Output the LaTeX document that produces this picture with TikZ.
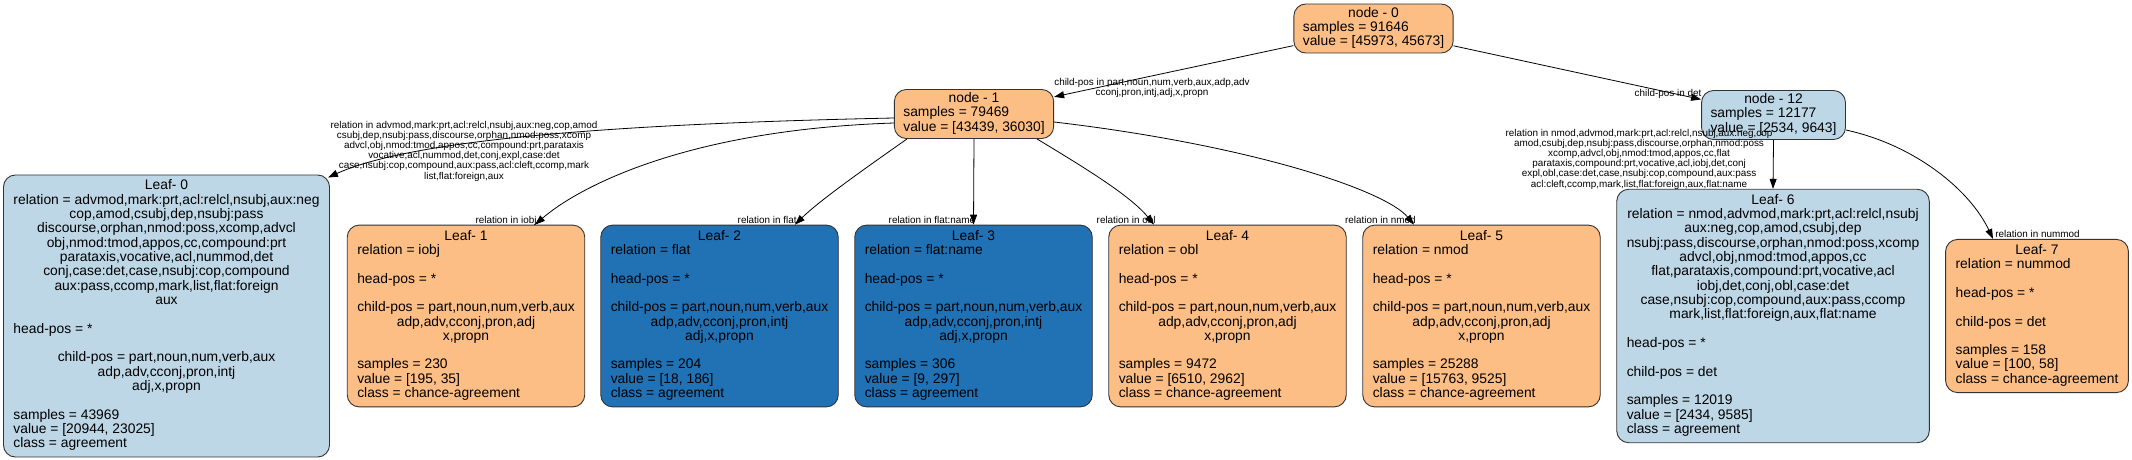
\documentclass[tikz,border=0pt]{standalone}
\usepackage{fontspec}
\setmainfont{Liberation Sans}
\usepackage{xcolor}
\usetikzlibrary{arrows.meta}

\definecolor{lightblue}{HTML}{BDD7E7}
\definecolor{darkblue}{HTML}{2171B5}
\definecolor{lightorange}{HTML}{FDBE85}

\newcommand\nodefont{\fontsize{13.85}{14.3}\selectfont}
\newcommand\edgefont{\fontsize{9.9}{10.2}\selectfont}
\newcommand\cen[1]{\multicolumn{1}{@{}c@{}}{#1}}
\newcommand\labellines[1]{\begin{tabular}{@{}l@{}}#1\end{tabular}}

\begin{document}
\begin{tikzpicture}[x=1pt,y=-1pt,
        box/.style={draw=black!80,line width=0.9pt,rounded corners=12pt,font=\nodefont,inner xsep=9pt,inner ysep=3pt},
        leaf/.style={box,inner xsep=10pt,inner ysep=5pt},
        edge/.style={-{Triangle[length=10pt,width=7pt]},line width=0.8pt},
        elabel/.style={font=\edgefont,inner sep=0pt,align=center},
        headlabel/.style={elabel,pos=1,anchor=base east,xshift=2pt,yshift=1pt}]
        \useasboundingbox (0,0) rectangle (2132,460);

        \node[box,fill=lightorange] (n0) at (1373.5,28.5) {\labellines{\cen{node - 0}\\ samples = 91646\\ value = [45973, 45673]}}; %node 0
        \node[box,fill=lightorange] (n1) at (974,114) {\labellines{\cen{node - 1}\\ samples = 79469\\ value = [43439, 36030]}}; %node 1
        \node[box,fill=lightblue] (n12) at (1773.5,115) {\labellines{\cen{node - 12}\\ samples = 12177\\ value = [2534, 9643]}}; %node 12

        \node[leaf,fill=lightblue] (leaf0) at (166.5,316) {\labellines{\cen{Leaf- 0}\\
                \cen{relation = advmod,mark:prt,acl:relcl,nsubj,aux:neg}\\
                \cen{cop,amod,csubj,dep,nsubj:pass}\\
                \cen{discourse,orphan,nmod:poss,xcomp,advcl}\\
                \cen{obj,nmod:tmod,appos,cc,compound:prt}\\
                \cen{parataxis,vocative,acl,nummod,det}\\
                \cen{conj,case:det,case,nsubj:cop,compound}\\
                \cen{aux:pass,ccomp,mark,list,flat:foreign}\\
                \cen{aux}\\
                \\
                head-pos = *\\
                \\
                \cen{child-pos = part,noun,num,verb,aux}\\
                \cen{adp,adv,cconj,pron,intj}\\
                \cen{adj,x,propn}\\
                \\
                samples = 43969\\
                value = [20944, 23025]\\
                class = agreement}}; %leaf 0
        \node[leaf,fill=lightorange] (leaf1) at (466,316) {\labellines{\cen{Leaf- 1}\\
                relation = iobj\\ \\ head-pos = *\\ \\
                child-pos = part,noun,num,verb,aux\\ \cen{adp,adv,cconj,pron,adj}\\ \cen{x,propn}\\ \\
                samples = 230\\ value = [195, 35]\\ class = chance-agreement}}; %leaf 1
        \node[leaf,fill=darkblue] (leaf2) at (719.5,316) {\labellines{\cen{Leaf- 2}\\
                relation = flat\\ \\ head-pos = *\\ \\
                child-pos = part,noun,num,verb,aux\\ \cen{adp,adv,cconj,pron,intj}\\ \cen{adj,x,propn}\\ \\
                samples = 204\\ value = [18, 186]\\ class = agreement}}; %leaf 2
        \node[leaf,fill=darkblue] (leaf3) at (973.5,316) {\labellines{\cen{Leaf- 3}\\
                relation = flat:name\\ \\ head-pos = *\\ \\
                child-pos = part,noun,num,verb,aux\\ \cen{adp,adv,cconj,pron,intj}\\ \cen{adj,x,propn}\\ \\
                samples = 306\\ value = [9, 297]\\ class = agreement}}; %leaf 3
        \node[leaf,fill=lightorange] (leaf4) at (1227.5,316) {\labellines{\cen{Leaf- 4}\\
                relation = obl\\ \\ head-pos = *\\ \\
                child-pos = part,noun,num,verb,aux\\ \cen{adp,adv,cconj,pron,adj}\\ \cen{x,propn}\\ \\
                samples = 9472\\ value = [6510, 2962]\\ class = chance-agreement}}; %leaf 4
        \node[leaf,fill=lightorange] (leaf5) at (1481.5,316) {\labellines{\cen{Leaf- 5}\\
                relation = nmod\\ \\ head-pos = *\\ \\
                child-pos = part,noun,num,verb,aux\\ \cen{adp,adv,cconj,pron,adj}\\ \cen{x,propn}\\ \\
                samples = 25288\\ value = [15763, 9525]\\ class = chance-agreement}}; %leaf 5
        \node[leaf,fill=lightblue] (leaf6) at (1773,316) {\labellines{\cen{Leaf- 6}\\
                \cen{relation = nmod,advmod,mark:prt,acl:relcl,nsubj}\\
                \cen{aux:neg,cop,amod,csubj,dep}\\
                \cen{nsubj:pass,discourse,orphan,nmod:poss,xcomp}\\
                \cen{advcl,obj,nmod:tmod,appos,cc}\\
                \cen{flat,parataxis,compound:prt,vocative,acl}\\
                \cen{iobj,det,conj,obl,case:det}\\
                \cen{case,nsubj:cop,compound,aux:pass,ccomp}\\
                \cen{mark,list,flat:foreign,aux,flat:name}\\
                \\
                head-pos = *\\ \\ child-pos = det\\ \\
                samples = 12019\\ value = [2434, 9585]\\ class = agreement}}; %leaf 6
        \node[leaf,fill=lightorange] (leaf7) at (2037,316) {\labellines{\cen{Leaf- 7}\\
                relation = nummod\\ \\ head-pos = *\\ \\ child-pos = det\\ \\
                samples = 158\\ value = [100, 58]\\ class = chance-agreement}}; %leaf 7

        % edges
        \draw[edge] (n0) -- (n1);
        \draw[edge] (n0) -- (n12);
        \draw[edge] ([yshift=-4pt]n1.west) .. controls (560,125) and (400,145) .. ([shift={(-2pt,-3pt)}]leaf0.north east);
        \draw[edge] ([yshift=-9pt]n1.west) .. controls (680,130) and (575,190) .. ([xshift=69pt]leaf1.north) node[headlabel] {relation in iobj};
        \draw[edge] ([xshift=-67pt]n1.south) .. controls (870,165) and (820,200) .. ([xshift=75.5pt]leaf2.north) node[headlabel] {relation in flat};
        \draw[edge] (n1.south) -- (leaf3.north) node[headlabel] {relation in flat:name};
        \draw[edge] ([xshift=63pt]n1.south) .. controls (1080,165) and (1130,195) .. ([xshift=-73.5pt]leaf4.north) node[headlabel] {relation in obl};
        \draw[edge] ([yshift=-8pt]n1.east) .. controls (1250,145) and (1385,190) .. ([xshift=-67.5pt]leaf5.north) node[headlabel] {relation in nmod};
        \draw[edge] (n12.south) -- (leaf6.north);
        \draw[edge] ([yshift=-15pt]n12.east) .. controls (1915,145) and (1970,190) .. ([xshift=-44pt]leaf7.north) node[headlabel,anchor=base west,xshift=0pt] {relation in nummod};

        % edge labels
        \node[elabel] (lab01) at (1152,88) {child-pos in part,noun,num,verb,aux,adp,adv\\cconj,pron,intj,adj,x,propn};
        \node[elabel] (lab012) at (1668,94) {child-pos in det};
        \node[elabel] (lab10) at (464,151) {relation in advmod,mark:prt,acl:relcl,nsubj,aux:neg,cop,amod\\
                csubj,dep,nsubj:pass,discourse,orphan,nmod:poss,xcomp\\
                advcl,obj,nmod:tmod,appos,cc,compound:prt,parataxis\\
                vocative,acl,nummod,det,conj,expl,case:det\\
                case,nsubj:cop,compound,aux:pass,acl:cleft,ccomp,mark\\
                list,flat:foreign,aux};
        \node[elabel] (lab126) at (1639,159) {relation in nmod,advmod,mark:prt,acl:relcl,nsubj,aux:neg,cop\\
                amod,csubj,dep,nsubj:pass,discourse,orphan,nmod:poss\\
                xcomp,advcl,obj,nmod:tmod,appos,cc,flat\\
                parataxis,compound:prt,vocative,acl,iobj,det,conj\\
                expl,obl,case:det,case,nsubj:cop,compound,aux:pass\\
                acl:cleft,ccomp,mark,list,flat:foreign,aux,flat:name};
    \end{tikzpicture}
\end{document}
